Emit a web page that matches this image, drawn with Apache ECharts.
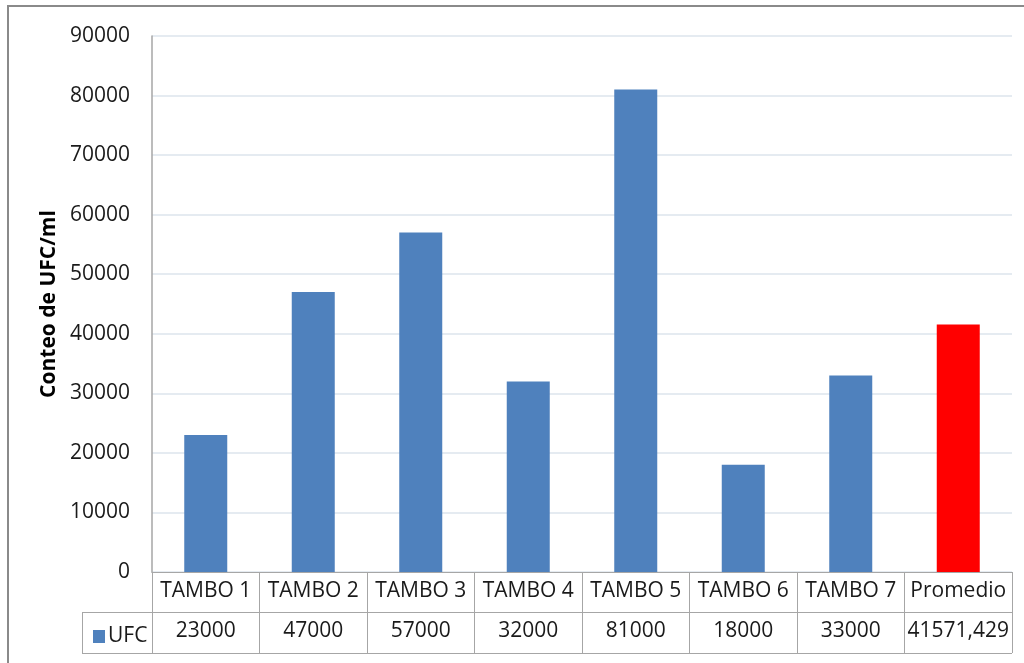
<!DOCTYPE html>
<html>
<head>
<meta charset="utf-8">
<script src="https://cdn.jsdelivr.net/npm/echarts@6/dist/echarts.min.js"></script>
<style>
  html, body { margin: 0; padding: 0; background: #ffffff; }
  #chart { width: 1024px; height: 663px; }
</style>
</head>
<body>
<div id="chart"></div>
<script>
// Colony counts per dairy farm, plus the overall average
const categories = ['TAMBO 1', 'TAMBO 2', 'TAMBO 3', 'TAMBO 4', 'TAMBO 5', 'TAMBO 6', 'TAMBO 7', 'Promedio'];
const ufcValues = [23000, 47000, 57000, 32000, 81000, 18000, 33000, 41571.429];
const seriesName = 'UFC';
const yTitle = 'Conteo de UFC/ml';

const FONT = 'Open Sans';
const BLUE = '#4f81bd';
const RED = '#ff0000';
const LINE = '#a6a6a6';
const TEXT = '#1a1a1a';

// the average bar is highlighted in red
const barData = ufcValues.map((v, i) => ({
  value: v,
  itemStyle: { color: categories[i] === 'Promedio' ? RED : BLUE }
}));

// decimal comma for the data table
const fmt = v => String(v).replace('.', ',');

const chart = echarts.init(document.getElementById('chart'), null, { renderer: 'canvas' });

chart.setOption({
  backgroundColor: '#ffffff',
  animation: false,
  textStyle: { fontFamily: FONT },
  grid: { left: 152, right: 12, top: 36, bottom: 91 },
  legend: {
    show: true,
    left: 88,
    top: 621,
    icon: 'rect',
    itemWidth: 12,
    itemHeight: 13,
    itemGap: 4,
    textStyle: { fontFamily: FONT, fontSize: 21, color: TEXT, padding: [0, 0, 0, -2] },
    data: [{ name: seriesName, itemStyle: { color: BLUE } }]
  },
  xAxis: [
    {
      type: 'category',
      data: categories,
      position: 'bottom',
      axisLine: { show: true, lineStyle: { color: LINE, width: 1 } },
      axisTick: { show: true, alignWithLabel: false, length: 81, lineStyle: { color: LINE, width: 1 } },
      axisLabel: { margin: 9, fontFamily: FONT, fontSize: 21, color: TEXT, interval: 0 },
      splitLine: { show: false }
    },
    {
      type: 'category',
      data: categories,
      position: 'bottom',
      offset: 40,
      axisLine: { show: false },
      axisTick: { show: false },
      axisLabel: {
        margin: 9, fontFamily: FONT, fontSize: 21, color: TEXT, interval: 0,
        formatter: (val, idx) => fmt(ufcValues[idx])
      }
    }
  ],
  yAxis: {
    type: 'value',
    min: 0,
    max: 90000,
    interval: 10000,
    name: yTitle,
    nameLocation: 'middle',
    nameGap: 84,
    nameRotate: 90,
    nameTextStyle: { fontFamily: FONT, fontSize: 21, fontWeight: 'bold', color: '#000000' },
    axisLine: { show: true, lineStyle: { color: LINE, width: 1.5 } },
    axisTick: { show: false },
    axisLabel: { margin: 22, fontFamily: FONT, fontSize: 21, color: TEXT, formatter: v => String(v) },
    splitLine: { show: true, lineStyle: { color: '#dde4ed', width: 1.5 } }
  },
  series: [
    {
      name: seriesName,
      type: 'bar',
      xAxisIndex: 0,
      barWidth: '40%',
      itemStyle: { color: BLUE },
      data: barData
    }
  ],
  graphic: [
    // outer chart frame
    {
      type: 'rect', silent: true, z: 10,
      shape: { x: 8, y: 6, width: 1100, height: 800 },
      style: { fill: 'none', stroke: '#8a8a8a', lineWidth: 2 }
    },
    // data table: horizontal rules and left edge of the legend cell
    {
      type: 'line', silent: true,
      shape: { x1: 82, y1: 612.5, x2: 1012, y2: 612.5 },
      style: { stroke: LINE, lineWidth: 1 }
    },
    {
      type: 'line', silent: true,
      shape: { x1: 82, y1: 653.5, x2: 1012, y2: 653.5 },
      style: { stroke: LINE, lineWidth: 1 }
    },
    {
      type: 'line', silent: true,
      shape: { x1: 82.5, y1: 612, x2: 82.5, y2: 654 },
      style: { stroke: LINE, lineWidth: 1 }
    }
  ]
});
</script>
</body>
</html>
